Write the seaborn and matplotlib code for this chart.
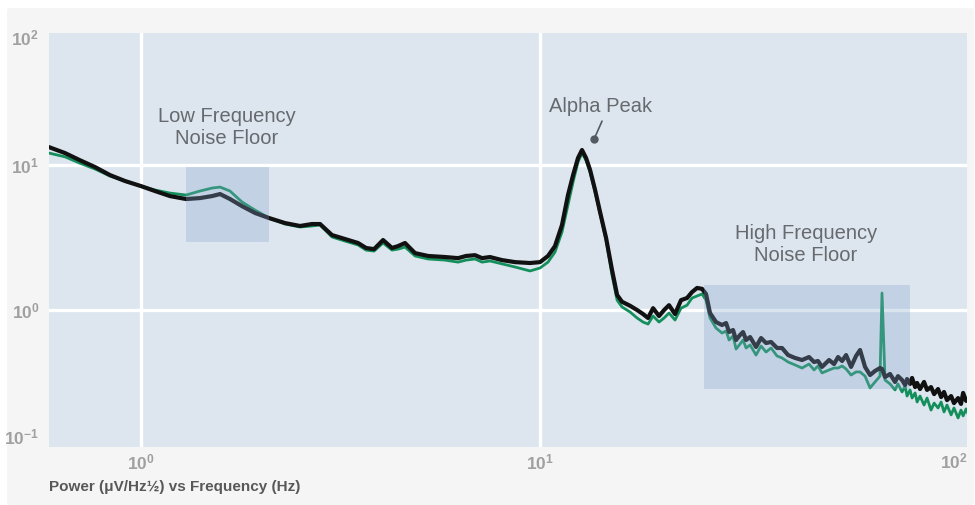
import numpy as np
import pandas as pd
import matplotlib
matplotlib.use("Agg")
import matplotlib.pyplot as plt
from matplotlib.patches import Rectangle, FancyBboxPatch
import seaborn as sns

# Spectrum sampled on a shared frequency grid (Hz)
freq = [0.588, 0.645, 0.703, 0.767, 0.836, 0.912, 1.00, 1.084, 1.182, 1.297,
        1.405, 1.506, 1.578, 1.671, 1.791, 1.931, 2.094, 2.296, 2.503, 2.683,
        2.810, 3.010, 3.245, 3.499, 3.664, 3.837, 4.042, 4.256, 4.406, 4.588,
        4.861, 5.241, 5.780, 6.232, 6.525, 6.873, 7.155, 7.492, 8.030, 8.659,
        9.439, 10.00, 10.47, 10.90, 11.35, 11.75, 12.10, 12.45, 12.74, 13.04,
        13.35, 13.74, 14.14, 14.64, 15.15, 15.60, 16.05, 16.81, 17.51, 18.12,
        18.65, 19.20, 19.87, 20.46, 21.05, 21.79, 22.56, 23.36, 24.04, 24.75,
        25.47, 26.06, 26.67, 27.61, 28.58, 29.26, 29.77, 30.46, 30.99, 31.72,
        32.27, 32.84, 33.61, 34.19, 34.78, 35.80, 36.85, 37.93, 39.26, 40.41,
        41.84, 43.56, 45.35, 47.22, 48.60, 49.73, 50.90, 53.01, 54.56, 55.84,
        57.15, 58.48, 60.18, 61.94, 63.39, 65.24, 67.16, 69.11, 71.13, 71.95,
        73.21, 75.37, 77.56, 78.9, 80.78, 82.2, 83.14, 84.6, 85.58, 87.1,
        88.10, 89.6, 91.71, 93.3, 95.48, 97.2, 99.42, 101.2, 102.9, 104.7,
        107.2, 109.0, 111.6, 113.5, 114.9, 116.9, 118.2]

# Power (uV/Hz^1/2), first recording (black)
power_black = [13.3, 12.1, 10.8, 9.69, 8.53, 7.76, 7.16, 6.62, 6.11, 5.83,
               5.92, 6.11, 6.31, 5.83, 5.21, 4.67, 4.31, 3.98, 3.80, 3.92,
               3.92, 3.29, 3.09, 2.90, 2.68, 2.63, 3.04, 2.68, 2.76, 2.90,
               2.47, 2.36, 2.32, 2.28, 2.36, 2.39, 2.28, 2.32, 2.21, 2.14,
               2.11, 2.14, 2.36, 2.76, 3.86, 6.21, 8.53, 11.2, 12.7, 11.2,
               9.24, 6.73, 4.74, 3.14, 1.89, 1.27, 1.14, 1.07, 1.00, 0.938,
               0.881, 1.03, 0.909, 1.00, 1.08, 0.938, 1.17, 1.21, 1.33, 1.42,
               1.40, 1.29, 0.953, 0.826, 0.788, 0.813, 0.705, 0.728, 0.621, 0.673,
               0.705, 0.621, 0.651, 0.602, 0.556, 0.641, 0.592, 0.602, 0.547, 0.547,
               0.489, 0.467, 0.452, 0.474, 0.438, 0.445, 0.405, 0.452, 0.424, 0.474,
               0.445, 0.489, 0.405, 0.482, 0.530, 0.405, 0.356, 0.380, 0.398, 0.392,
               0.345, 0.362, 0.319, 0.350, 0.329, 0.304, 0.334, 0.309, 0.340, 0.294,
               0.314, 0.285, 0.319, 0.281, 0.294, 0.263, 0.285, 0.251, 0.272, 0.239,
               0.255, 0.228, 0.247, 0.225, 0.268, 0.236, 0.243]

# Power (uV/Hz^1/2), second recording (green)
power_green = [12.1, 11.4, 10.3, 9.39, 8.40, 7.76, 7.16, 6.73, 6.41, 6.21,
               6.62, 6.94, 7.05, 6.62, 5.56, 4.89, 4.31, 3.92, 3.74, 3.80,
               3.86, 3.19, 2.99, 2.81, 2.59, 2.55, 2.90, 2.59, 2.63, 2.72,
               2.36, 2.25, 2.21, 2.14, 2.21, 2.25, 2.14, 2.18, 2.08, 1.98,
               1.86, 1.95, 2.14, 2.51, 3.45, 5.30, 7.64, 10.5, 12.1, 10.8,
               8.95, 6.51, 4.59, 3.04, 1.74, 1.17, 1.05, 0.969, 0.881, 0.826,
               0.800, 0.909, 0.826, 0.881, 0.953, 0.853, 1.03, 1.08, 1.21, 1.25,
               1.29, 1.17, 0.881, 0.751, 0.694, 0.717, 0.621, 0.662, 0.538, 0.583,
               0.621, 0.547, 0.574, 0.530, 0.489, 0.565, 0.513, 0.547, 0.482, 0.467,
               0.438, 0.418, 0.398, 0.424, 0.386, 0.411, 0.368, 0.386, 0.398, 0.398,
               0.411, 0.392, 0.356, 0.374, 0.374, 0.350, 0.290, 0.319, 0.350, 1.31,
               0.329, 0.309, 0.281, 0.309, 0.272, 0.299, 0.255, 0.281, 0.247, 0.268,
               0.232, 0.255, 0.221, 0.247, 0.204, 0.228, 0.211, 0.232, 0.198, 0.221,
               0.189, 0.211, 0.180, 0.204, 0.186, 0.208, 0.192]

# Shaded noise-floor bands: (f_low, f_high, p_low, p_high)
low_band = (1.30, 2.09, 2.94, 9.69)
high_band = (25.8, 84.5, 0.285, 1.49)

x_ticks = [1, 10]
x_tick_labels = [r"$\mathbf{10^{0}}$", r"$\mathbf{10^{1}}$"]
y_ticks = [1, 10]
y_tick_labels = [r"$\mathbf{10^{0}}$", r"$\mathbf{10^{1}}$"]

df = pd.concat([
    pd.DataFrame({"freq": freq, "power": power_green, "series": "green"}),
    pd.DataFrame({"freq": freq, "power": power_black, "series": "black"}),
])

sns.set_theme(style="white")
plt.rcParams["font.family"] = ["Liberation Sans", "DejaVu Sans"]
plt.rcParams["mathtext.fontset"] = "custom"
plt.rcParams["mathtext.rm"] = "Liberation Sans"
plt.rcParams["mathtext.bf"] = "Liberation Sans:bold"

fig = plt.figure(figsize=(9.75, 5.05), dpi=100)
fig.patch.set_facecolor("white")
fig.patches.append(FancyBboxPatch((7 / 975, 0), 967 / 975, 497 / 505,
                                  boxstyle="round,pad=0,rounding_size=0.004",
                                  transform=fig.transFigure, facecolor="#f5f5f5",
                                  edgecolor="none", zorder=-10))

ax = fig.add_axes([49 / 975, 58 / 505, 918 / 975, 414 / 505])
ax.set_facecolor("#dde6ef")

sns.lineplot(data=df[df.series == "green"], x="freq", y="power", ax=ax,
             color="#148f5c", linewidth=2.0, estimator=None, sort=False,
             zorder=2, legend=False)
sns.lineplot(data=df[df.series == "black"], x="freq", y="power", ax=ax,
             color="#111111", linewidth=3.0, estimator=None, sort=False,
             zorder=2.5, legend=False)
for ln in ax.lines:
    ln.set_solid_joinstyle("round")

ax.set_xscale("log")
ax.set_yscale("log")
ax.set_xlim(0.588, 117.5)
ax.set_ylim(0.1135, 81.5)
ax.minorticks_off()

ax.set_xticks(x_ticks)
ax.set_xticklabels(x_tick_labels)
ax.set_yticks(y_ticks)
ax.set_yticklabels(y_tick_labels)
ax.tick_params(axis="both", length=0, labelsize=12.5, labelcolor="#a0a0a0")
ax.tick_params(axis="x", pad=4)
ax.tick_params(axis="y", pad=7)
ax.grid(True, which="major", color="white", linewidth=2.4)
ax.set_axisbelow(True)
for s in ax.spines.values():
    s.set_visible(False)

# End-of-axis decade labels kept inside the plotting area
ax.text(-0.011, 0.988, r"$\mathbf{10^{2}}$", transform=ax.transAxes,
        ha="right", va="center", fontsize=12.5, color="#a0a0a0")
ax.text(-0.011, 0.022, r"$\mathbf{10^{-1}}$", transform=ax.transAxes,
        ha="right", va="center", fontsize=12.5, color="#a0a0a0")
ax.text(0.986, -0.036, r"$\mathbf{10^{2}}$", transform=ax.transAxes,
        ha="center", va="center", fontsize=12.5, color="#a0a0a0")

ax.set_xlabel("")
ax.set_ylabel("")
ax.text(0.0, -0.097, "Power (μV/Hz½) vs Frequency (Hz)", transform=ax.transAxes,
        ha="left", va="center", fontsize=11, fontweight="bold", color="#585858")

band_color = "#86a6cc"
for f0, f1, p0, p1 in (low_band, high_band):
    ax.add_patch(Rectangle((f0, p0), f1 - f0, p1 - p0, facecolor=band_color,
                           edgecolor="none", alpha=0.3, zorder=3))

txt_color = "#666a6e"
ax.text(1.643, 18.3, "Low Frequency\nNoise Floor", ha="center", va="center",
        fontsize=14.5, color=txt_color, linespacing=1.2, zorder=4)
ax.text(46.4, 2.81, "High Frequency\nNoise Floor", ha="center", va="center",
        fontsize=14.5, color=txt_color, linespacing=1.2, zorder=4)
ax.text(14.14, 25.5, "Alpha Peak", ha="center", va="center",
        fontsize=14.5, color=txt_color, zorder=4)
ax.plot([13.66, 14.3], [15.1, 20.1], color="#555a60", linewidth=1.2, zorder=4)
ax.plot([13.66], [15.1], marker="o", markersize=5, color="#555a60", zorder=4)

fig.savefig("out.png", dpi=100)
